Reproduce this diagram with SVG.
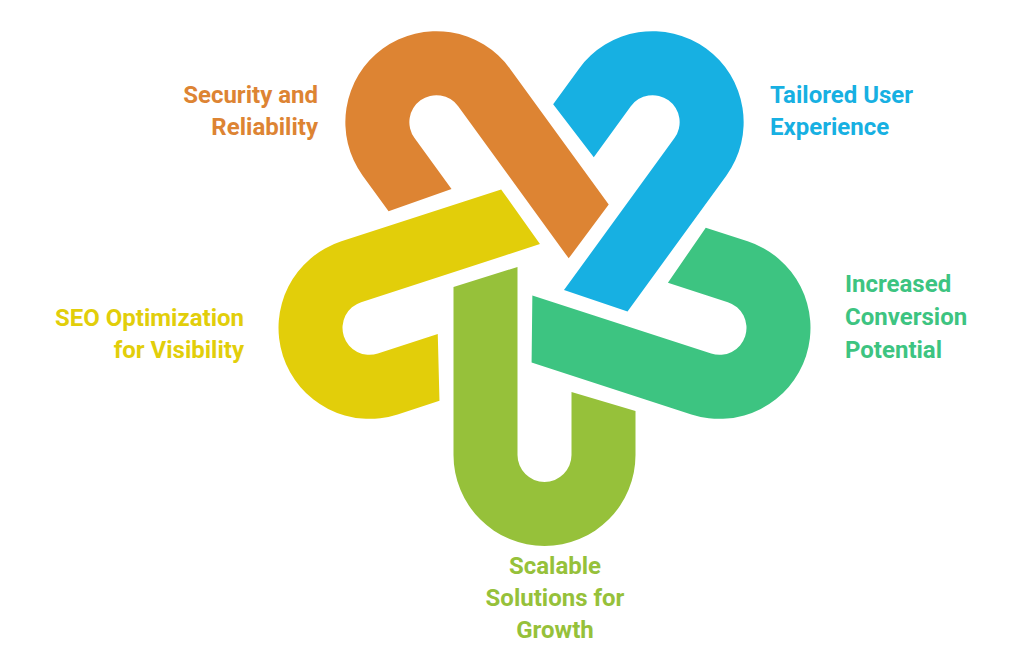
<svg xmlns="http://www.w3.org/2000/svg" width="1024" height="664" viewBox="0 0 1024 664">
<style>
text{font-family:Roboto,"Liberation Sans",sans-serif;font-weight:bold;font-size:24px}
.g{fill:#96C13A}.y{fill:#E2CE0A}.o{fill:#DD8433}.b{fill:#17B0E2}.t{fill:#3DC481}
</style>
<defs>
<path id="u" d="M453.5 287 L453.5 455 A91 91 0 0 0 635.5 455 L635.5 411 L571.5 392 L571.5 455 A27 27 0 0 1 517.5 455 L517.5 267 Z"/>
</defs>
<rect width="1024" height="664" fill="#fff"/>
<g id="green"><use href="#u" class="g"/><text x="555" y="574" text-anchor="middle" class="g">Scalable</text><text x="555" y="606" text-anchor="middle" class="g">Solutions for</text><text x="555" y="638" text-anchor="middle" class="g">Growth</text></g>
<g id="yellow"><use href="#u" class="y" transform="rotate(72 544.5 271)"/><text x="244" y="326" text-anchor="end" class="y">SEO Optimization</text><text x="244" y="358" text-anchor="end" class="y">for Visibility</text></g>
<g id="orange"><use href="#u" class="o" transform="rotate(144 544.5 271)"/><text x="318" y="103" text-anchor="end" class="o">Security and</text><text x="318" y="135" text-anchor="end" class="o">Reliability</text></g>
<g id="blue"><use href="#u" class="b" transform="rotate(216 544.5 271)"/><text x="770" y="103" class="b">Tailored User</text><text x="770" y="135" class="b">Experience</text></g>
<g id="teal"><use href="#u" class="t" transform="rotate(288 544.5 271)"/><text x="845" y="292" class="t">Increased</text><text x="845" y="325" class="t">Conversion</text><text x="845" y="358" class="t">Potential</text></g>
</svg>
